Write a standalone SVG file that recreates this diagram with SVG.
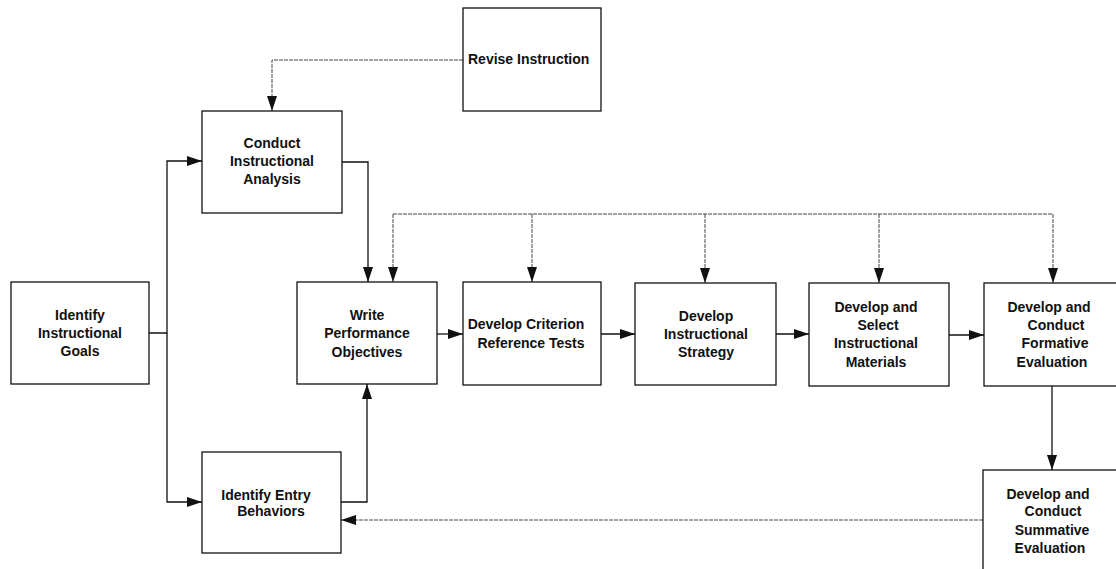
<svg xmlns="http://www.w3.org/2000/svg" width="1116" height="569" viewBox="0 0 1116 569">
<style>
.box{fill:#fff;stroke:#111;stroke-width:1.3}
.t{font-family:"Liberation Sans",Arial,sans-serif;font-weight:bold;font-size:14px;fill:#111;text-anchor:middle}
.s{fill:none;stroke:#111;stroke-width:1.3}
.d{fill:none;stroke:#444;stroke-width:1;stroke-dasharray:4 1}
</style>
<defs>
<marker id="ah" markerUnits="userSpaceOnUse" markerWidth="15" markerHeight="10" refX="15" refY="5" orient="auto">
<path d="M0,0 L15,5 L0,10 z" fill="#111"/>
</marker>
</defs>
<rect width="1116" height="569" fill="#fff"/>
<g id="connectors">
<path class="d" d="M463,60 H272 V111" marker-end="url(#ah)"/>
<path class="s" d="M149,333 H167 V161 H202" marker-end="url(#ah)"/>
<path class="s" d="M167,333 V502 H202" marker-end="url(#ah)"/>
<path class="s" d="M342,162 H368 V282" marker-end="url(#ah)"/>
<path class="s" d="M341,502 H367 V384" marker-end="url(#ah)"/>
<path class="s" d="M437,334 H463" marker-end="url(#ah)"/>
<path class="s" d="M601,334 H635" marker-end="url(#ah)"/>
<path class="s" d="M776,334 H809" marker-end="url(#ah)"/>
<path class="s" d="M949,335 H984" marker-end="url(#ah)"/>
<path class="s" d="M1052,386 V470" marker-end="url(#ah)"/>
<path class="d" d="M983,520 H341" marker-end="url(#ah)"/>
<path class="d" d="M393,214 H1053"/>
<path class="d" d="M393,214 V282" marker-end="url(#ah)"/>
<path class="d" d="M532,214 V282" marker-end="url(#ah)"/>
<path class="d" d="M705,214 V283" marker-end="url(#ah)"/>
<path class="d" d="M879,214 V283" marker-end="url(#ah)"/>
<path class="d" d="M1053,214 V283" marker-end="url(#ah)"/>
</g>
<g id="revise">
<rect class="box" x="463" y="8" width="138" height="103"/>
<text class="t" x="468" y="64" style="text-anchor:start">Revise Instruction</text>
</g>
<g id="conduct">
<rect class="box" x="202" y="111" width="140" height="102"/>
<text class="t" x="272" y="148">Conduct</text>
<text class="t" x="272" y="166">Instructional</text>
<text class="t" x="272" y="184">Analysis</text>
</g>
<g id="goals">
<rect class="box" x="11" y="282" width="138" height="102"/>
<text class="t" x="80" y="320">Identify</text>
<text class="t" x="80" y="338">Instructional</text>
<text class="t" x="80" y="356">Goals</text>
</g>
<g id="entry">
<rect class="box" x="202" y="452" width="139" height="101"/>
<text class="t" x="266" y="500">Identify Entry</text>
<text class="t" x="271" y="516">Behaviors</text>
</g>
<g id="write">
<rect class="box" x="297" y="282" width="140" height="102"/>
<text class="t" x="367" y="320">Write</text>
<text class="t" x="367" y="338">Performance</text>
<text class="t" x="367" y="357">Objectives</text>
</g>
<g id="criterion">
<rect class="box" x="463" y="282" width="138" height="103"/>
<text class="t" x="526" y="329">Develop Criterion</text>
<text class="t" x="531" y="348">Reference Tests</text>
</g>
<g id="strategy">
<rect class="box" x="635" y="283" width="141" height="102"/>
<text class="t" x="706" y="321">Develop</text>
<text class="t" x="706" y="339">Instructional</text>
<text class="t" x="706" y="357">Strategy</text>
</g>
<g id="materials">
<rect class="box" x="809" y="283" width="140" height="103"/>
<text class="t" x="876" y="312">Develop and</text>
<text class="t" x="878" y="330">Select</text>
<text class="t" x="876" y="348">Instructional</text>
<text class="t" x="876" y="367">Materials</text>
</g>
<g id="formative">
<rect class="box" x="984" y="283" width="150" height="103"/>
<text class="t" x="1049" y="312">Develop and</text>
<text class="t" x="1056" y="330">Conduct</text>
<text class="t" x="1055" y="348">Formative</text>
<text class="t" x="1052" y="367">Evaluation</text>
</g>
<g id="summative">
<rect class="box" x="983" y="470" width="150" height="110"/>
<text class="t" x="1048" y="499">Develop and</text>
<text class="t" x="1053" y="516">Conduct</text>
<text class="t" x="1052" y="535">Summative</text>
<text class="t" x="1050" y="553">Evaluation</text>
</g>
</svg>
